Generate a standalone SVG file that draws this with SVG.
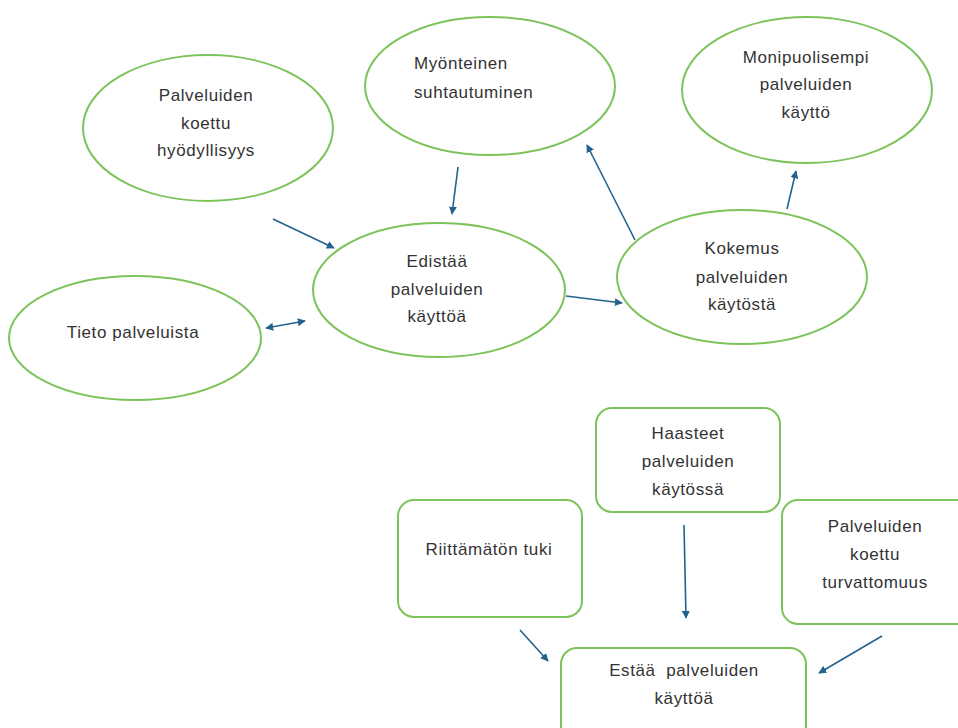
<svg xmlns="http://www.w3.org/2000/svg" width="958" height="728" viewBox="0 0 958 728">
<style>
.n{fill:#fff;stroke:#7cc35b;stroke-width:2}
.t{font-family:"Liberation Sans",Arial,sans-serif;font-size:17px;fill:#333;letter-spacing:0.6px;text-anchor:middle}
.tl{text-anchor:start}
.c line{stroke:#23628c;stroke-width:1.6}
</style>
<defs>
<marker id="ah" viewBox="0 0 10 10" refX="9" refY="5" markerWidth="8" markerHeight="8" orient="auto-start-reverse" markerUnits="userSpaceOnUse">
<path d="M0,0 L10,5 L0,10 z" fill="#23628c"/>
</marker>
</defs>
<rect width="958" height="728" fill="#fff"/>
<g id="n-hyodyllisyys"><ellipse class="n" cx="208" cy="128" rx="125" ry="73"/>
<text class="t" x="206" y="101">Palveluiden</text><text class="t" x="206" y="129">koettu</text><text class="t" x="206" y="156">hyödyllisyys</text></g>
<g id="n-myonteinen"><ellipse class="n" cx="490" cy="86" rx="125" ry="69"/>
<text class="t tl" x="414" y="69">Myönteinen</text><text class="t tl" x="414" y="98">suhtautuminen</text></g>
<g id="n-monipuolisempi"><ellipse class="n" cx="807" cy="90" rx="125" ry="73"/>
<text class="t" x="806" y="63">Monipuolisempi</text><text class="t" x="806" y="90">palveluiden</text><text class="t" x="806" y="118">käyttö</text></g>
<g id="n-tieto"><ellipse class="n" cx="135" cy="338" rx="126" ry="62"/>
<text class="t" x="133" y="338">Tieto palveluista</text></g>
<g id="n-edistaa"><ellipse class="n" cx="439" cy="290" rx="126" ry="67"/>
<text class="t" x="437" y="267">Edistää</text><text class="t" x="437" y="295">palveluiden</text><text class="t" x="437" y="322">käyttöä</text></g>
<g id="n-kokemus"><ellipse class="n" cx="742" cy="277" rx="125" ry="67"/>
<text class="t" x="742" y="254">Kokemus</text><text class="t" x="742" y="283">palveluiden</text><text class="t" x="742" y="310">käytöstä</text></g>
<g id="n-haasteet"><rect class="n" x="596" y="408" width="184" height="104" rx="16"/>
<text class="t" x="688" y="439">Haasteet</text><text class="t" x="688" y="467">palveluiden</text><text class="t" x="688" y="495">käytössä</text></g>
<g id="n-riittamaton"><rect class="n" x="398" y="500" width="184" height="117" rx="16"/>
<text class="t" x="489" y="555">Riittämätön tuki</text></g>
<g id="n-turvattomuus"><rect class="n" x="782" y="500" width="190" height="124" rx="16"/>
<text class="t" x="875" y="532">Palveluiden</text><text class="t" x="875" y="560">koettu</text><text class="t" x="875" y="588">turvattomuus</text></g>
<g id="n-estaa"><rect class="n" x="561" y="648" width="245" height="100" rx="16"/>
<text class="t" x="684" y="676" style="white-space:pre">Estää  palveluiden</text><text class="t" x="684" y="704">käyttöä</text></g>
<g class="c" id="connectors">
<line x1="273" y1="219" x2="334" y2="248" marker-end="url(#ah)"/>
<line x1="458" y1="167" x2="452" y2="214" marker-end="url(#ah)"/>
<line x1="266" y1="328" x2="305" y2="321" marker-start="url(#ah)" marker-end="url(#ah)"/>
<line x1="566" y1="296" x2="622" y2="303" marker-end="url(#ah)"/>
<line x1="635" y1="240" x2="587" y2="145" marker-end="url(#ah)"/>
<line x1="787" y1="209" x2="796" y2="171" marker-end="url(#ah)"/>
<line x1="684" y1="525" x2="686" y2="618" marker-end="url(#ah)"/>
<line x1="520" y1="630" x2="548" y2="661" marker-end="url(#ah)"/>
<line x1="882" y1="636" x2="819" y2="673" marker-end="url(#ah)"/>
</g>
</svg>
